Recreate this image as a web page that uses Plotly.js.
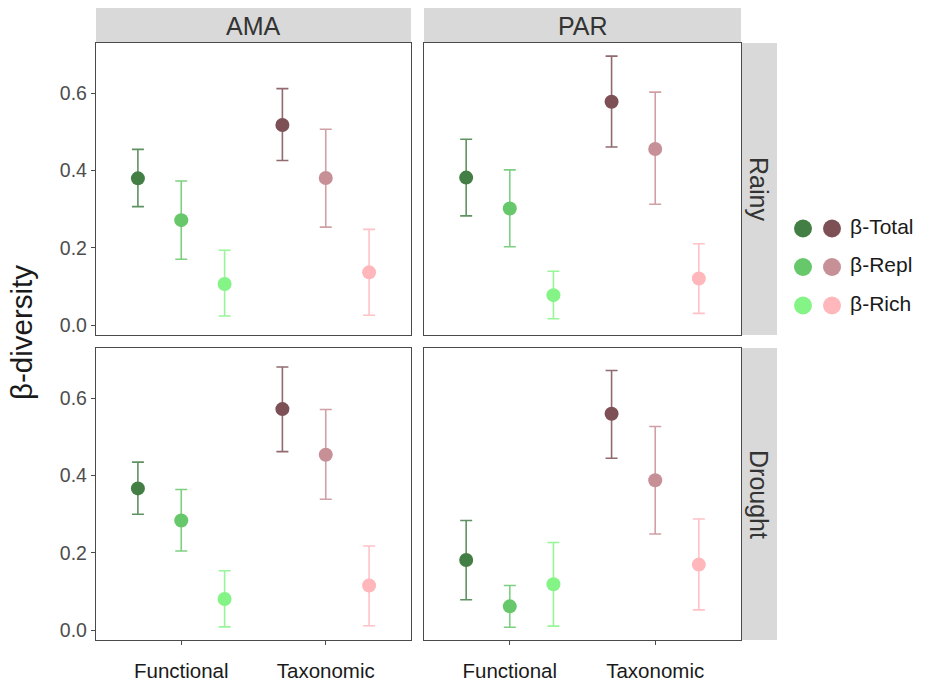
<!DOCTYPE html>
<html>
<head>
<meta charset="utf-8">
<script src="https://cdn.plot.ly/plotly-3.0.1.min.js"></script>
<style>html,body{margin:0;padding:0;background:#fff;}#chart{width:927px;height:682px;}</style>
</head>
<body>
<div id="chart"></div>
<script>
// ---------- data ----------
const categories = ['Functional', 'Taxonomic'];
const components = ['β-Total', 'β-Repl', 'β-Rich'];
const sites = ['AMA', 'PAR'];
const seasons = ['Rainy', 'Drought'];
const yTicks = [0.0, 0.2, 0.4, 0.6];

// order in each array: Functional Total, Repl, Rich, Taxonomic Total, Repl, Rich
const amaRainyMean  = [0.380, 0.272, 0.107, 0.518, 0.381, 0.137];
const amaRainyLow   = [0.307, 0.171, 0.024, 0.426, 0.254, 0.026];
const amaRainyHigh  = [0.455, 0.373, 0.194, 0.612, 0.507, 0.248];

const parRainyMean  = [0.382, 0.302, 0.078, 0.578, 0.456, 0.121];
const parRainyLow   = [0.283, 0.203, 0.017, 0.461, 0.313, 0.031];
const parRainyHigh  = [0.481, 0.402, 0.140, 0.696, 0.603, 0.211];

const amaDroughtMean = [0.367, 0.284, 0.081, 0.572, 0.454, 0.116];
const amaDroughtLow  = [0.300, 0.205, 0.009, 0.462, 0.339, 0.012];
const amaDroughtHigh = [0.435, 0.364, 0.154, 0.681, 0.571, 0.218];

const parDroughtMean = [0.182, 0.062, 0.119, 0.560, 0.388, 0.170];
const parDroughtLow  = [0.079, 0.008, 0.011, 0.445, 0.249, 0.053];
const parDroughtHigh = [0.284, 0.116, 0.227, 0.672, 0.527, 0.288];

// colours: [category][component]
const pointColors = [
  ['#437f45', '#66c86a', '#84f486'],
  ['#7d5056', '#c78f96', '#ffb7bc']
];
const barColors = [
  ['rgba(67,127,69,0.85)', 'rgba(102,200,106,0.85)', 'rgba(132,244,134,0.85)'],
  ['rgba(125,80,86,0.85)', 'rgba(199,143,150,0.85)', 'rgba(255,183,188,0.85)']
];

// ---------- build ----------
const panels = [
  {mean: amaRainyMean, low: amaRainyLow, high: amaRainyHigh, xa: 'x', ya: 'y'},
  {mean: parRainyMean, low: parRainyLow, high: parRainyHigh, xa: 'x2', ya: 'y2'},
  {mean: amaDroughtMean, low: amaDroughtLow, high: amaDroughtHigh, xa: 'x3', ya: 'y3'},
  {mean: parDroughtMean, low: parDroughtLow, high: parDroughtHigh, xa: 'x4', ya: 'y4'}
];

const traces = [];
panels.forEach(p => {
  categories.forEach((cat, ci) => {
    components.forEach((comp, ki) => {
      const i = ci * components.length + ki;
      traces.push({
        type: 'scatter', mode: 'markers',
        x: [cat], y: [p.mean[i]],
        xaxis: p.xa, yaxis: p.ya,
        offsetgroup: comp,
        marker: {color: pointColors[ci][ki], size: 14},
        error_y: {type: 'data', symmetric: false,
          array: [p.high[i] - p.mean[i]], arrayminus: [p.mean[i] - p.low[i]],
          color: barColors[ci][ki], thickness: 1.6, width: 6},
        showlegend: false, hoverinfo: 'x+y'
      });
    });
  });
});

const font = 'Liberation Sans, Arial, sans-serif';

// legend drawn as a small categorical subplot
categories.forEach((cat, ci) => {
  const last = ci === categories.length - 1;
  traces.push({
    type: 'scatter', mode: last ? 'markers+text' : 'markers',
    x: components.map(() => cat), y: components,
    text: last ? components.map(c => '\u00a0' + c) : undefined,
    textposition: 'middle right',
    textfont: {size: 21, color: '#1a1a1a', family: font},
    xaxis: 'x5', yaxis: 'y5', offsetgroup: 'legend',
    marker: {color: pointColors[ci], size: 18},
    showlegend: false, hoverinfo: 'skip', cliponaxis: false
  });
});

const W = 927, H = 682;
const px = v => v / W;
const py = v => 1 - v / H;

const colDom = [[px(96), px(411)], [px(424), px(741)]];
const rowDom = [[py(335), py(43)], [py(640), py(348)]];
const yRange = [-0.025, 0.73];
const xRange = [-0.59, 1.59];

function xAxis(col, row) {
  const bottom = row === 1;
  return {
    domain: colDom[col], anchor: ['y', 'y2', 'y3', 'y4'][row * 2 + col],
    type: 'category', categoryarray: categories, categoryorder: 'array',
    range: xRange, showgrid: false, zeroline: false,
    showline: true, mirror: true, linecolor: '#4a4a4a', linewidth: 1.2,
    ticks: bottom ? 'outside' : '', ticklen: 4, tickcolor: '#4a4a4a',
    ticklabelstandoff: 8,
    showticklabels: bottom,
    tickfont: {size: 20.5, color: '#1a1a1a', family: font},
    fixedrange: true
  };
}
function yAxis(col, row) {
  const left = col === 0;
  return {
    domain: rowDom[row], anchor: ['x', 'x2', 'x3', 'x4'][row * 2 + col],
    range: yRange, tickvals: yTicks, tickformat: '.1f',
    showgrid: false, zeroline: false,
    showline: true, mirror: true, linecolor: '#4a4a4a', linewidth: 1.2,
    ticks: left ? 'outside' : '', ticklen: 4, tickcolor: '#4a4a4a',
    showticklabels: left,
    tickfont: {size: 19.5, color: '#4d4d4d', family: font},
    fixedrange: true
  };
}

const shapes = [];
const annotations = [];
sites.forEach((s, ci) => {
  shapes.push({type: 'rect', xref: 'paper', yref: 'paper',
    x0: colDom[ci][0], x1: colDom[ci][1], y0: py(43), y1: py(8),
    fillcolor: '#d9d9d9', line: {width: 0}, layer: 'below'});
  annotations.push({xref: 'paper', yref: 'paper', x: (colDom[ci][0] + colDom[ci][1]) / 2,
    y: py(26), text: s, showarrow: false, xanchor: 'center', yanchor: 'middle',
    font: {size: 25, color: '#333333', family: font}});
});
seasons.forEach((s, ri) => {
  shapes.push({type: 'rect', xref: 'paper', yref: 'paper',
    x0: px(741), x1: px(777), y0: rowDom[ri][0], y1: rowDom[ri][1],
    fillcolor: '#d9d9d9', line: {width: 0}, layer: 'below'});
  annotations.push({xref: 'paper', yref: 'paper', x: px(759),
    y: (rowDom[ri][0] + rowDom[ri][1]) / 2, text: s, textangle: 90, showarrow: false,
    xanchor: 'center', yanchor: 'middle',
    font: {size: 25, color: '#333333', family: font}});
});
annotations.push({xref: 'paper', yref: 'paper', x: px(21), y: py(333),
  text: 'β-diversity', textangle: -90, showarrow: false, xanchor: 'center', yanchor: 'middle',
  font: {size: 29.5, color: '#1a1a1a', family: font}});

const layout = {
  width: W, height: H,
  margin: {l: 0, r: 0, t: 0, b: 0},
  paper_bgcolor: '#ffffff', plot_bgcolor: '#ffffff',
  scattermode: 'group', scattergap: 0.1,
  xaxis: xAxis(0, 0), yaxis: yAxis(0, 0),
  xaxis2: xAxis(1, 0), yaxis2: yAxis(1, 0),
  xaxis3: xAxis(0, 1), yaxis3: yAxis(0, 1),
  xaxis4: xAxis(1, 1), yaxis4: yAxis(1, 1),
  xaxis5: {domain: [px(788.5), px(846.5)], anchor: 'y5', type: 'category',
    categoryarray: categories, categoryorder: 'array', range: [-0.5, 1.5],
    visible: false, fixedrange: true},
  yaxis5: {domain: [py(324.75), py(209.25)], anchor: 'x5', type: 'category',
    categoryarray: components, categoryorder: 'array', range: [2.5, -0.5],
    visible: false, fixedrange: true},
  shapes: shapes, annotations: annotations,
  showlegend: false,
  font: {family: font}
};

Plotly.newPlot('chart', traces, layout, {displayModeBar: false, staticPlot: true});
</script>
</body>
</html>
